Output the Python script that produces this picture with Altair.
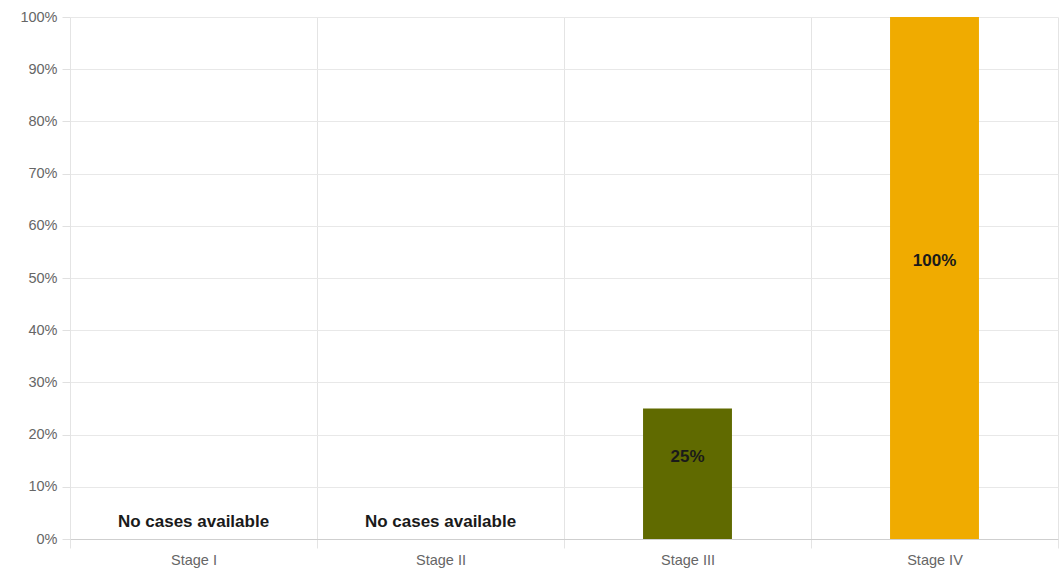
import altair as alt
import pandas as pd

# Share of cases per stage (None = no cases recorded)
stages = ["Stage I", "Stage II", "Stage III", "Stage IV"]
shares = [None, None, 0.25, 1.00]
bar_colors = ["#7a8a2e", "#4a7bb7", "#606a00", "#f0ab00"]
y_ticks = [i / 10 for i in range(11)]


def label_for(v):
    return "No cases available" if v is None else f"{round(v * 100)}%"


df = pd.DataFrame({
    "stage": stages,
    "share": shares,
    "label": [label_for(v) for v in shares],
})

x_enc = alt.X(
    "stage:N",
    sort=stages,
    title=None,
    scale=alt.Scale(paddingInner=0, paddingOuter=0),
    axis=alt.Axis(
        tickBand="extent",
        grid=True,
        gridColor="#e4e4e4",
        tickColor="#e4e4e4",
        tickSize=9,
        domainColor="#cfcfcf",
        labelColor="#666666",
        labelFontSize=14.5,
        labelFont="Liberation Sans",
        labelPadding=5,
        labelAngle=0,
    ),
)

bars = alt.Chart(df).mark_bar(width=alt.RelativeBandSize(0.36)).encode(
    x=x_enc,
    y=alt.Y(
        "share:Q",
        title=None,
        scale=alt.Scale(domain=[0, 1], nice=False),
        axis=alt.Axis(
            values=y_ticks,
            format=".0%",
            grid=True,
            gridColor="#e8e8e8",
            tickColor="#e0e0e0",
            tickSize=8,
            domain=False,
            labelColor="#666666",
            labelFontSize=14.5,
            labelFont="Liberation Sans",
            labelPadding=5,
        ),
    ),
    color=alt.Color(
        "stage:N",
        scale=alt.Scale(domain=stages, range=bar_colors),
        legend=None,
    ),
)

labels = alt.Chart(df).transform_calculate(
    mid="isValid(datum.share) ? datum.share / 2 : 0"
).mark_text(
    font="Liberation Sans",
    fontSize=17,
    fontWeight="bold",
    color="#1a1a1a",
    dy=-17,
).encode(
    x=alt.X("stage:N", sort=stages),
    y=alt.Y("mid:Q"),
    text="label:N",
)

chart = (
    alt.layer(bars, labels)
    .properties(
        width=988,
        height=522,
        autosize=alt.AutoSizeParams(type="none"),
        padding={"left": 70, "top": 17, "right": 6, "bottom": 37},
        background="white",
    )
    .configure_view(stroke=None)
)

chart.save("out.html", embed_options={"renderer": "svg", "actions": False})
